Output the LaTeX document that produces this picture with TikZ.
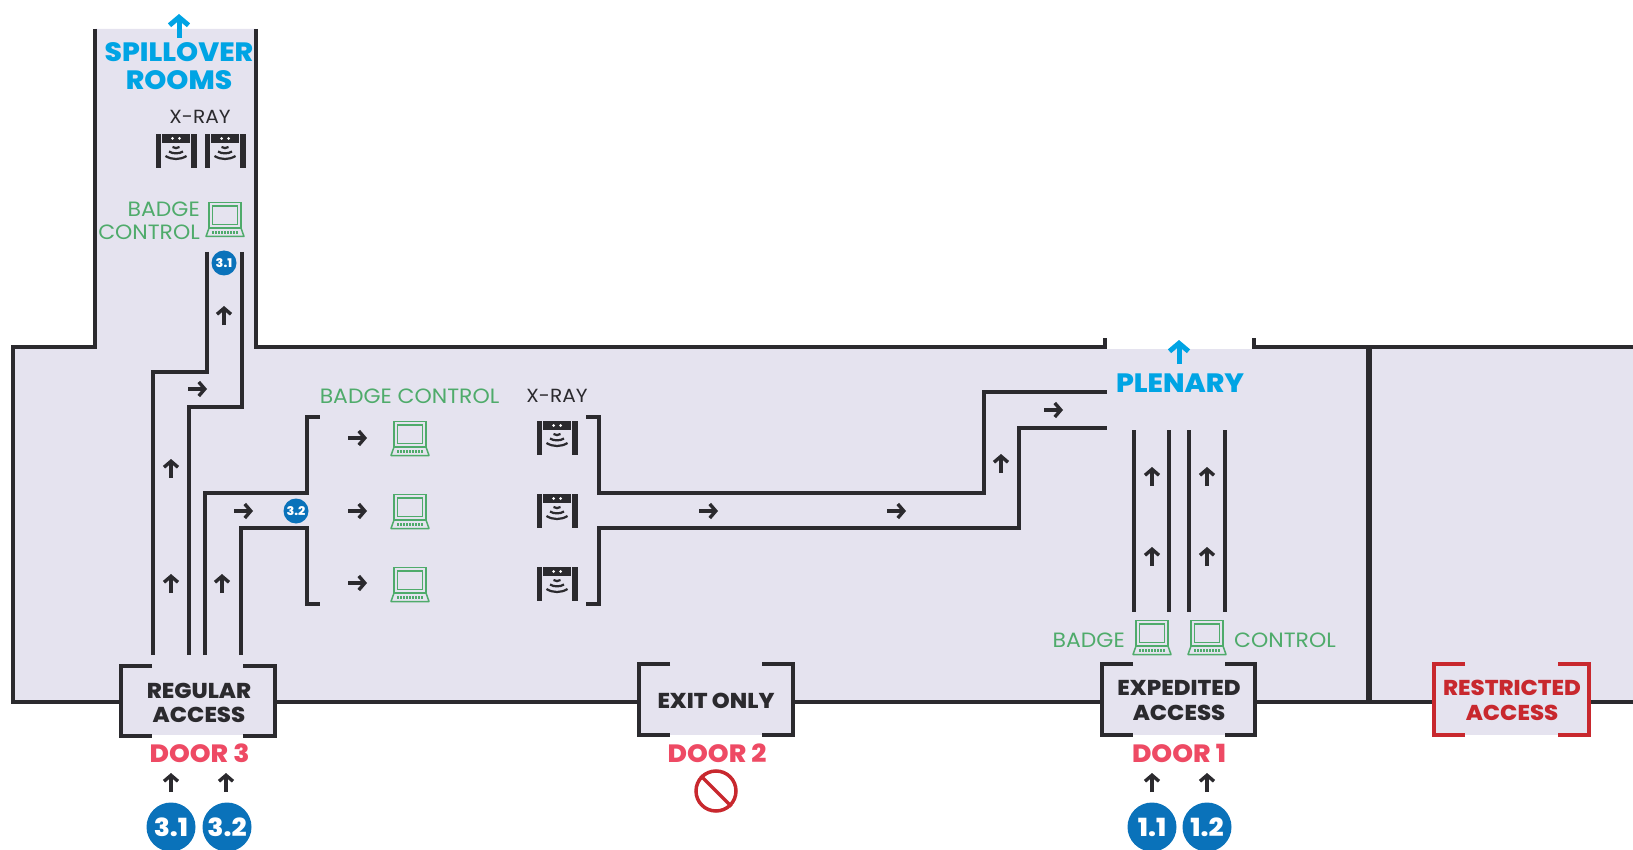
\documentclass[tikz,border=0pt]{standalone}
\usepackage{fontspec}
\setmainfont{Poppins}[FakeStretch=1.06,BoldFont={Poppins ExtraBold}]
\usetikzlibrary{arrows.meta,backgrounds}

\definecolor{floorcol}{HTML}{E5E3EF}
\definecolor{wallcol}{HTML}{2B2A2E}
\definecolor{skycol}{HTML}{00A4E4}
\definecolor{badgecol}{HTML}{4FAB6B}
\definecolor{doorcol}{HTML}{EE4A64}
\definecolor{redcol}{HTML}{C8282E}
\definecolor{spotcol}{HTML}{0A72BA}

\begin{document}
\begin{tikzpicture}[x=1pt,y=-1pt,font=\rmfamily,
    wall/.style={draw=wallcol, line width=3.2pt, line join=miter},
    divider/.style={draw=wallcol, line width=6pt},
    lane/.style={draw=wallcol, line width=3.6pt, line join=miter},
    doorframe/.style={draw=wallcol, line width=4.2pt, line join=miter},
    flow/.style={draw=wallcol, line width=3.6pt, -{Straight Barb[length=6pt,width=14pt,line width=3.4pt]}},
    exitflow/.style={draw=skycol, line width=5pt, -{Straight Barb[length=8pt,width=19pt,line width=5pt]}},
    hall/.style={inner sep=0, text=skycol, font=\fontsize{26.5}{28}\selectfont\bfseries, align=center},
    access/.style={inner sep=0, text=wallcol, font=\fontsize{21.5}{24.5}\selectfont\bfseries, align=center},
    doorname/.style={inner sep=0, text=doorcol, font=\fontsize{25}{26}\selectfont\bfseries},
    check/.style={inner sep=0, text=badgecol, font=\fontsize{20.7}{23}\selectfont},
    xraytext/.style={inner sep=0, text=wallcol, font=\fontsize{19}{23}\selectfont},
    bigspot/.style={circle, fill=spotcol, inner sep=0, minimum size=49pt, text=white, font=\fontsize{25}{25}\selectfont\bfseries},
    smallspot/.style={circle, fill=spotcol, inner sep=0, minimum size=25pt, text=white, font=\fontsize{12}{12}\selectfont\bfseries},
    laptop/.pic={
        \draw[badgecol, line width=1.5pt] (-16,-17.5) rectangle (16,8);
        \draw[badgecol, line width=1.5pt] (-12.5,-14) rectangle (12.5,4.5);
        \draw[badgecol, line width=1.5pt, line join=round] (-16,8) -- (-19,16.5) -- (19,16.5) -- (16,8);
        \draw[badgecol, line width=2.2pt, dash pattern=on 2pt off 1pt] (-13,12.5) -- (13,12.5);
    },
    xray/.pic={
        \fill[wallcol] (-20.5,-17) rectangle (-14.8,17);
        \fill[wallcol] (14.8,-17) rectangle (20.5,17);
        \fill[wallcol] (-13.8,-17) rectangle (13.8,-8);
        \fill[white] (-3.5,-12.5) circle (1.5) (3.5,-12.5) circle (1.5);
        \draw[wallcol, line width=2.2pt] (-3.5,-4) .. controls (-1,-2.5) and (1,-2.5) .. (3.5,-4);
        \draw[wallcol, line width=2.2pt] (-7,0.5) .. controls (-3,3) and (3,3) .. (7,0.5);
        \draw[wallcol, line width=2.2pt] (-10.5,5) .. controls (-4,9) and (4,9) .. (10.5,5);
    }]

    \useasboundingbox (0,0) rectangle (1633,850);

    \begin{scope}[on background layer]
    \fill[floorcol] (95,29) -- (256,29) -- (256,349) -- (1633,349) -- (1633,702) -- (13,702) -- (13,347) -- (95,347) -- cycle;
    \fill[floorcol] (121,666) rectangle (275,735);
    \fill[floorcol] (639,664) rectangle (793,735);
    \fill[floorcol] (1102,664) rectangle (1255,735);
    \fill[floorcol] (1434,664) rectangle (1589,735);
    \end{scope}

    % building walls
    \draw[wall] (95,29) -- (95,347) -- (13,347) -- (13,702) -- (121,702);
    \draw[wall] (256,29) -- (256,347) -- (1105,347) -- (1105,338);
    \draw[wall] (1254,338) -- (1254,347) -- (1633,347);
    \draw[wall] (275,702) -- (639,702);
    \draw[wall] (793,702) -- (1102,702);
    \draw[wall] (1255,702) -- (1434,702);
    \draw[wall] (1589,702) -- (1633,702);
    \draw[divider] (1369,347) -- (1369,703);

    % doors
    \draw[doorframe] (152,666) -- (121,666) -- (121,736) -- (152,736);
    \draw[doorframe] (243,666) -- (275,666) -- (275,736) -- (243,736);
    \draw[doorframe] (670,664) -- (639,664) -- (639,735) -- (670,735);
    \draw[doorframe] (762,664) -- (793,664) -- (793,735) -- (762,735);
    \draw[doorframe] (1133,664) -- (1102,664) -- (1102,735) -- (1133,735);
    \draw[doorframe] (1225,664) -- (1255,664) -- (1255,735) -- (1225,735);
    \draw[doorframe, draw=redcol] (1465,664) -- (1434,664) -- (1434,735) -- (1465,735);
    \draw[doorframe, draw=redcol] (1558,664) -- (1589,664) -- (1589,735) -- (1558,735);

    % lanes
    \draw[lane] (207,252) -- (207,372) -- (153,372) -- (153,655);
    \draw[lane] (242,252) -- (242,407) -- (189,407) -- (189,655);
    \draw[lane] (205,655) -- (205,493) -- (307,493) -- (307,417) -- (320,417);
    \draw[lane] (241,655) -- (241,528) -- (307,528) -- (307,604) -- (320,604);
    \draw[lane] (586,417) -- (599,417) -- (599,493) -- (984,493) -- (984,392) -- (1107,392);
    \draw[lane] (586,604) -- (599,604) -- (599,528) -- (1019,528) -- (1019,428) -- (1107,428);
    \draw[lane] (1134,430) -- (1134,612);
    \draw[lane] (1169,430) -- (1169,612);
    \draw[lane] (1189,430) -- (1189,612);
    \draw[lane] (1225,430) -- (1225,612);

    \draw[flow] (224,325) --++ (0,-19);
    \draw[flow] (188,389) --++ (19,0);
    \draw[flow] (171,478) --++ (0,-19);
    \draw[flow] (171,593) --++ (0,-19);
    \draw[flow] (222,593) --++ (0,-19);
    \draw[flow] (234,511) --++ (19,0);
    \draw[flow] (348,438) --++ (19,0);
    \draw[flow] (348,511) --++ (19,0);
    \draw[flow] (348,583) --++ (19,0);
    \draw[flow] (699,511) --++ (19,0);
    \draw[flow] (887,511) --++ (19,0);
    \draw[flow] (1001,473) --++ (0,-19);
    \draw[flow] (1044,410) --++ (19,0);
    \draw[flow] (1152,486) --++ (0,-19);
    \draw[flow] (1152,566) --++ (0,-19);
    \draw[flow] (1207,486) --++ (0,-19);
    \draw[flow] (1207,566) --++ (0,-19);
    \draw[flow] (171,792) --++ (0,-19);
    \draw[flow] (226,792) --++ (0,-19);
    \draw[flow] (1152,792) --++ (0,-19);
    \draw[flow] (1207,792) --++ (0,-19);
    \draw[exitflow] (179,38) --++ (0,-24);
    \draw[exitflow] (1179,364) --++ (0,-24);

    \pic at (225,220) {laptop};
    \pic at (410,439) {laptop};
    \pic at (410,512) {laptop};
    \pic at (410,585) {laptop};
    \pic at (1152,638) {laptop};
    \pic at (1207,638) {laptop};

    \pic at (176,151) {xray};
    \pic at (225,151) {xray};
    \pic at (557,438) {xray};
    \pic at (557,511) {xray};
    \pic at (557,584) {xray};

    \node[hall] (spillover) at (179,66) {SPILLOVER\\ROOMS};
    \node[hall] (plenary) at (1180,383) {PLENARY};

    \node[xraytext] (xrayroom) at (200,117) {X-RAY};
    \node[xraytext] (xrayhall) at (557,396) {X-RAY};
    \node[check, align=right, anchor=east] (badgeroom) at (200,220.5) {BADGE\\CONTROL};
    \node[check] (badgehall) at (409.5,396) {BADGE CONTROL};
    \node[check, anchor=east] (badgefast) at (1125,640) {BADGE};
    \node[check, anchor=west] (controlfast) at (1234,640) {CONTROL};

    \node[access] (regular) at (199,703) {REGULAR\\ACCESS};
    \node[access] (exitonly) at (716,701) {EXIT ONLY};
    \node[access] (expedited) at (1179,700.5) {EXPEDITED\\ACCESS};
    \node[access, text=redcol] (restricted) at (1512,700.5) {RESTRICTED\\ACCESS};

    \node[doorname] (doorthree) at (199.5,753) {DOOR 3};
    \node[doorname] (doortwo) at (717,753) {DOOR 2};
    \node[doorname] (doorone) at (1179,753) {DOOR 1};

    \node[smallspot] (spotroom) at (224,263) {3.1};
    \node[smallspot] (spothall) at (296,511) {3.2};
    \node[bigspot] (spotthreeone) at (171,827) {3.1};
    \node[bigspot] (spotthreetwo) at (227,827) {3.2};
    \node[bigspot] (spotoneone) at (1152,827) {1.1};
    \node[bigspot] (spotonetwo) at (1207,827) {1.2};

    \node[circle, draw=redcol, line width=3.5pt, inner sep=0, minimum size=40pt] (noentry) at (716,791) {};
    \draw[redcol, line width=3.5pt] (noentry.135) -- (noentry.-45);
    %
    \end{tikzpicture}
\end{document}
